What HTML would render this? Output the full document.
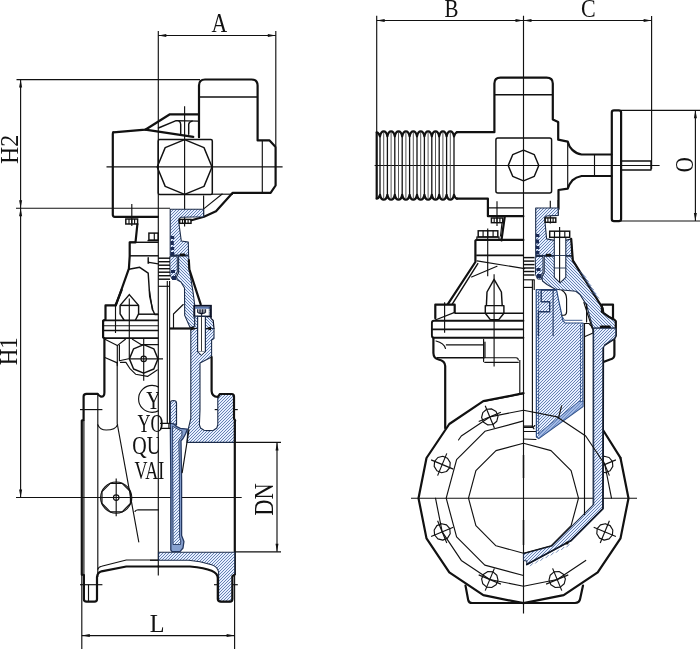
<!DOCTYPE html>
<html><head><meta charset="utf-8"><title>Gate valve drawing</title>
<style>
html,body{margin:0;padding:0;background:#fff;}
svg{display:block;font-family:"Liberation Serif",serif;fill:#111;}
</style></head><body>
<svg width="700" height="649" viewBox="0 0 700 649">
<defs>
<filter id="gs" x="-20%" y="-20%" width="140%" height="140%"><feColorMatrix type="saturate" values="0"/></filter>
<path id="hl" d="M-260.0,610L150.0,200M-257.0,610L153.0,200M-254.0,610L156.0,200M-251.0,610L159.0,200M-248.0,610L162.0,200M-245.0,610L165.0,200M-242.0,610L168.0,200M-239.0,610L171.0,200M-236.0,610L174.0,200M-233.0,610L177.0,200M-230.0,610L180.0,200M-227.0,610L183.0,200M-224.0,610L186.0,200M-221.0,610L189.0,200M-218.0,610L192.0,200M-215.0,610L195.0,200M-212.0,610L198.0,200M-209.0,610L201.0,200M-206.0,610L204.0,200M-203.0,610L207.0,200M-200.0,610L210.0,200M-197.0,610L213.0,200M-194.0,610L216.0,200M-191.0,610L219.0,200M-188.0,610L222.0,200M-185.0,610L225.0,200M-182.0,610L228.0,200M-179.0,610L231.0,200M-176.0,610L234.0,200M-173.0,610L237.0,200M-170.0,610L240.0,200M-167.0,610L243.0,200M-164.0,610L246.0,200M-161.0,610L249.0,200M-158.0,610L252.0,200M-155.0,610L255.0,200M-152.0,610L258.0,200M-149.0,610L261.0,200M-146.0,610L264.0,200M-143.0,610L267.0,200M-140.0,610L270.0,200M-137.0,610L273.0,200M-134.0,610L276.0,200M-131.0,610L279.0,200M-128.0,610L282.0,200M-125.0,610L285.0,200M-122.0,610L288.0,200M-119.0,610L291.0,200M-116.0,610L294.0,200M-113.0,610L297.0,200M-110.0,610L300.0,200M-107.0,610L303.0,200M-104.0,610L306.0,200M-101.0,610L309.0,200M-98.0,610L312.0,200M-95.0,610L315.0,200M-92.0,610L318.0,200M-89.0,610L321.0,200M-86.0,610L324.0,200M-83.0,610L327.0,200M-80.0,610L330.0,200M-77.0,610L333.0,200M-74.0,610L336.0,200M-71.0,610L339.0,200M-68.0,610L342.0,200M-65.0,610L345.0,200M-62.0,610L348.0,200M-59.0,610L351.0,200M-56.0,610L354.0,200M-53.0,610L357.0,200M-50.0,610L360.0,200M-47.0,610L363.0,200M-44.0,610L366.0,200M-41.0,610L369.0,200M-38.0,610L372.0,200M-35.0,610L375.0,200M-32.0,610L378.0,200M-29.0,610L381.0,200M-26.0,610L384.0,200M-23.0,610L387.0,200M-20.0,610L390.0,200M-17.0,610L393.0,200M-14.0,610L396.0,200M-11.0,610L399.0,200M-8.0,610L402.0,200M-5.0,610L405.0,200M-2.0,610L408.0,200M1.0,610L411.0,200M4.0,610L414.0,200M7.0,610L417.0,200M10.0,610L420.0,200M13.0,610L423.0,200M16.0,610L426.0,200M19.0,610L429.0,200M22.0,610L432.0,200M25.0,610L435.0,200M28.0,610L438.0,200M31.0,610L441.0,200M34.0,610L444.0,200M37.0,610L447.0,200M40.0,610L450.0,200M43.0,610L453.0,200M46.0,610L456.0,200M49.0,610L459.0,200M52.0,610L462.0,200M55.0,610L465.0,200M58.0,610L468.0,200M61.0,610L471.0,200M64.0,610L474.0,200M67.0,610L477.0,200M70.0,610L480.0,200M73.0,610L483.0,200M76.0,610L486.0,200M79.0,610L489.0,200M82.0,610L492.0,200M85.0,610L495.0,200M88.0,610L498.0,200M91.0,610L501.0,200M94.0,610L504.0,200M97.0,610L507.0,200M100.0,610L510.0,200M103.0,610L513.0,200M106.0,610L516.0,200M109.0,610L519.0,200M112.0,610L522.0,200M115.0,610L525.0,200M118.0,610L528.0,200M121.0,610L531.0,200M124.0,610L534.0,200M127.0,610L537.0,200M130.0,610L540.0,200M133.0,610L543.0,200M136.0,610L546.0,200M139.0,610L549.0,200M142.0,610L552.0,200M145.0,610L555.0,200M148.0,610L558.0,200M151.0,610L561.0,200M154.0,610L564.0,200M157.0,610L567.0,200M160.0,610L570.0,200M163.0,610L573.0,200M166.0,610L576.0,200M169.0,610L579.0,200M172.0,610L582.0,200M175.0,610L585.0,200M178.0,610L588.0,200M181.0,610L591.0,200M184.0,610L594.0,200M187.0,610L597.0,200M190.0,610L600.0,200M193.0,610L603.0,200M196.0,610L606.0,200M199.0,610L609.0,200M202.0,610L612.0,200M205.0,610L615.0,200M208.0,610L618.0,200M211.0,610L621.0,200M214.0,610L624.0,200M217.0,610L627.0,200M220.0,610L630.0,200M223.0,610L633.0,200M226.0,610L636.0,200M229.0,610L639.0,200M232.0,610L642.0,200M235.0,610L645.0,200M238.0,610L648.0,200M241.0,610L651.0,200M244.0,610L654.0,200M247.0,610L657.0,200M250.0,610L660.0,200M253.0,610L663.0,200M256.0,610L666.0,200M259.0,610L669.0,200M262.0,610L672.0,200M265.0,610L675.0,200M268.0,610L678.0,200M271.0,610L681.0,200M274.0,610L684.0,200M277.0,610L687.0,200M280.0,610L690.0,200M283.0,610L693.0,200M286.0,610L696.0,200M289.0,610L699.0,200M292.0,610L702.0,200M295.0,610L705.0,200M298.0,610L708.0,200M301.0,610L711.0,200M304.0,610L714.0,200M307.0,610L717.0,200M310.0,610L720.0,200M313.0,610L723.0,200M316.0,610L726.0,200M319.0,610L729.0,200M322.0,610L732.0,200M325.0,610L735.0,200M328.0,610L738.0,200M331.0,610L741.0,200M334.0,610L744.0,200M337.0,610L747.0,200M340.0,610L750.0,200M343.0,610L753.0,200M346.0,610L756.0,200M349.0,610L759.0,200M352.0,610L762.0,200M355.0,610L765.0,200M358.0,610L768.0,200M361.0,610L771.0,200M364.0,610L774.0,200M367.0,610L777.0,200M370.0,610L780.0,200M373.0,610L783.0,200M376.0,610L786.0,200M379.0,610L789.0,200M382.0,610L792.0,200M385.0,610L795.0,200M388.0,610L798.0,200M391.0,610L801.0,200M394.0,610L804.0,200M397.0,610L807.0,200M400.0,610L810.0,200M403.0,610L813.0,200M406.0,610L816.0,200M409.0,610L819.0,200M412.0,610L822.0,200M415.0,610L825.0,200M418.0,610L828.0,200M421.0,610L831.0,200M424.0,610L834.0,200M427.0,610L837.0,200M430.0,610L840.0,200M433.0,610L843.0,200M436.0,610L846.0,200M439.0,610L849.0,200M442.0,610L852.0,200M445.0,610L855.0,200M448.0,610L858.0,200M451.0,610L861.0,200M454.0,610L864.0,200M457.0,610L867.0,200M460.0,610L870.0,200M463.0,610L873.0,200M466.0,610L876.0,200M469.0,610L879.0,200M472.0,610L882.0,200M475.0,610L885.0,200M478.0,610L888.0,200M481.0,610L891.0,200M484.0,610L894.0,200M487.0,610L897.0,200M490.0,610L900.0,200M493.0,610L903.0,200M496.0,610L906.0,200M499.0,610L909.0,200M502.0,610L912.0,200M505.0,610L915.0,200M508.0,610L918.0,200M511.0,610L921.0,200M514.0,610L924.0,200M517.0,610L927.0,200M520.0,610L930.0,200M523.0,610L933.0,200M526.0,610L936.0,200M529.0,610L939.0,200M532.0,610L942.0,200M535.0,610L945.0,200M538.0,610L948.0,200M541.0,610L951.0,200M544.0,610L954.0,200M547.0,610L957.0,200M550.0,610L960.0,200M553.0,610L963.0,200M556.0,610L966.0,200M559.0,610L969.0,200M562.0,610L972.0,200M565.0,610L975.0,200M568.0,610L978.0,200M571.0,610L981.0,200M574.0,610L984.0,200M577.0,610L987.0,200M580.0,610L990.0,200M583.0,610L993.0,200M586.0,610L996.0,200M589.0,610L999.0,200M592.0,610L1002.0,200M595.0,610L1005.0,200M598.0,610L1008.0,200M601.0,610L1011.0,200M604.0,610L1014.0,200M607.0,610L1017.0,200M610.0,610L1020.0,200M613.0,610L1023.0,200M616.0,610L1026.0,200M619.0,610L1029.0,200M622.0,610L1032.0,200M625.0,610L1035.0,200M628.0,610L1038.0,200M631.0,610L1041.0,200" stroke="#5875aa" stroke-width="0.9" fill="none"/><path id="hl2" d="M0.0,200L140.0,340M3.0,200L143.0,340M6.0,200L146.0,340M9.0,200L149.0,340M12.0,200L152.0,340M15.0,200L155.0,340M18.0,200L158.0,340M21.0,200L161.0,340M24.0,200L164.0,340M27.0,200L167.0,340M30.0,200L170.0,340M33.0,200L173.0,340M36.0,200L176.0,340M39.0,200L179.0,340M42.0,200L182.0,340M45.0,200L185.0,340M48.0,200L188.0,340M51.0,200L191.0,340M54.0,200L194.0,340M57.0,200L197.0,340M60.0,200L200.0,340M63.0,200L203.0,340M66.0,200L206.0,340M69.0,200L209.0,340M72.0,200L212.0,340M75.0,200L215.0,340M78.0,200L218.0,340M81.0,200L221.0,340M84.0,200L224.0,340M87.0,200L227.0,340M90.0,200L230.0,340M93.0,200L233.0,340M96.0,200L236.0,340M99.0,200L239.0,340M102.0,200L242.0,340M105.0,200L245.0,340M108.0,200L248.0,340M111.0,200L251.0,340M114.0,200L254.0,340M117.0,200L257.0,340M120.0,200L260.0,340M123.0,200L263.0,340M126.0,200L266.0,340M129.0,200L269.0,340M132.0,200L272.0,340M135.0,200L275.0,340M138.0,200L278.0,340M141.0,200L281.0,340M144.0,200L284.0,340M147.0,200L287.0,340M150.0,200L290.0,340M153.0,200L293.0,340M156.0,200L296.0,340M159.0,200L299.0,340M162.0,200L302.0,340M165.0,200L305.0,340M168.0,200L308.0,340M171.0,200L311.0,340M174.0,200L314.0,340M177.0,200L317.0,340M180.0,200L320.0,340M183.0,200L323.0,340M186.0,200L326.0,340M189.0,200L329.0,340M192.0,200L332.0,340M195.0,200L335.0,340M198.0,200L338.0,340M201.0,200L341.0,340M204.0,200L344.0,340M207.0,200L347.0,340M210.0,200L350.0,340M213.0,200L353.0,340M216.0,200L356.0,340M219.0,200L359.0,340M222.0,200L362.0,340M225.0,200L365.0,340M228.0,200L368.0,340M231.0,200L371.0,340M234.0,200L374.0,340M237.0,200L377.0,340M240.0,200L380.0,340M243.0,200L383.0,340M246.0,200L386.0,340M249.0,200L389.0,340M252.0,200L392.0,340M255.0,200L395.0,340M258.0,200L398.0,340M261.0,200L401.0,340M264.0,200L404.0,340M267.0,200L407.0,340M270.0,200L410.0,340M273.0,200L413.0,340M276.0,200L416.0,340M279.0,200L419.0,340M282.0,200L422.0,340M285.0,200L425.0,340M288.0,200L428.0,340M291.0,200L431.0,340M294.0,200L434.0,340M297.0,200L437.0,340M300.0,200L440.0,340M303.0,200L443.0,340M306.0,200L446.0,340M309.0,200L449.0,340M312.0,200L452.0,340M315.0,200L455.0,340M318.0,200L458.0,340M321.0,200L461.0,340M324.0,200L464.0,340M327.0,200L467.0,340M330.0,200L470.0,340M333.0,200L473.0,340M336.0,200L476.0,340M339.0,200L479.0,340M342.0,200L482.0,340M345.0,200L485.0,340M348.0,200L488.0,340M351.0,200L491.0,340M354.0,200L494.0,340M357.0,200L497.0,340M360.0,200L500.0,340M363.0,200L503.0,340M366.0,200L506.0,340M369.0,200L509.0,340M372.0,200L512.0,340M375.0,200L515.0,340M378.0,200L518.0,340M381.0,200L521.0,340M384.0,200L524.0,340M387.0,200L527.0,340M390.0,200L530.0,340M393.0,200L533.0,340M396.0,200L536.0,340M399.0,200L539.0,340M402.0,200L542.0,340M405.0,200L545.0,340M408.0,200L548.0,340M411.0,200L551.0,340M414.0,200L554.0,340M417.0,200L557.0,340M420.0,200L560.0,340M423.0,200L563.0,340M426.0,200L566.0,340M429.0,200L569.0,340M432.0,200L572.0,340M435.0,200L575.0,340M438.0,200L578.0,340M441.0,200L581.0,340M444.0,200L584.0,340M447.0,200L587.0,340M450.0,200L590.0,340M453.0,200L593.0,340M456.0,200L596.0,340M459.0,200L599.0,340M462.0,200L602.0,340M465.0,200L605.0,340M468.0,200L608.0,340M471.0,200L611.0,340M474.0,200L614.0,340M477.0,200L617.0,340M480.0,200L620.0,340M483.0,200L623.0,340M486.0,200L626.0,340M489.0,200L629.0,340M492.0,200L632.0,340M495.0,200L635.0,340M498.0,200L638.0,340M501.0,200L641.0,340M504.0,200L644.0,340M507.0,200L647.0,340M510.0,200L650.0,340M513.0,200L653.0,340M516.0,200L656.0,340M519.0,200L659.0,340M522.0,200L662.0,340M525.0,200L665.0,340M528.0,200L668.0,340M531.0,200L671.0,340M534.0,200L674.0,340M537.0,200L677.0,340M540.0,200L680.0,340M543.0,200L683.0,340M546.0,200L686.0,340M549.0,200L689.0,340M552.0,200L692.0,340M555.0,200L695.0,340M558.0,200L698.0,340M561.0,200L701.0,340M564.0,200L704.0,340M567.0,200L707.0,340M570.0,200L710.0,340M573.0,200L713.0,340M576.0,200L716.0,340M579.0,200L719.0,340M582.0,200L722.0,340M585.0,200L725.0,340M588.0,200L728.0,340M591.0,200L731.0,340M594.0,200L734.0,340M597.0,200L737.0,340M600.0,200L740.0,340M603.0,200L743.0,340M606.0,200L746.0,340M609.0,200L749.0,340M612.0,200L752.0,340M615.0,200L755.0,340M618.0,200L758.0,340M621.0,200L761.0,340M624.0,200L764.0,340M627.0,200L767.0,340M630.0,200L770.0,340" stroke="#5875aa" stroke-width="0.9" fill="none"/>
</defs>
<rect width="700" height="649" fill="#fff"/>
<line x1="158.3" y1="31" x2="158.3" y2="575.5" stroke="#111" stroke-width="1.15" />
<line x1="275.8" y1="31" x2="275.8" y2="146" stroke="#111" stroke-width="1.15" />
<line x1="158.3" y1="35.5" x2="275.8" y2="35.5" stroke="#111" stroke-width="1.15" />
<polygon points="158.3,35.5 166.3,34.0 166.3,37.0" fill="#111"/>
<polygon points="275.8,35.5 267.8,37.0 267.8,34.0" fill="#111"/>
<g filter="url(#gs)"><text transform="translate(219.4,32.2) rotate(0) scale(0.82,1)" font-size="26.5" text-anchor="middle" >A</text></g>
<line x1="16.5" y1="79.6" x2="200" y2="79.6" stroke="#111" stroke-width="1.15" />
<line x1="16" y1="208.2" x2="170" y2="208.2" stroke="#111" stroke-width="1.15" />
<line x1="20.6" y1="79.6" x2="20.6" y2="497.5" stroke="#111" stroke-width="1.15" />
<polygon points="20.6,79.6 22.1,87.6 19.1,87.6" fill="#111"/>
<polygon points="20.6,208.2 19.1,200.2 22.1,200.2" fill="#111"/>
<polygon points="20.6,208.2 22.1,216.2 19.1,216.2" fill="#111"/>
<polygon points="20.6,497.5 19.1,489.5 22.1,489.5" fill="#111"/>
<line x1="16" y1="497.5" x2="241.7" y2="497.5" stroke="#111" stroke-width="1.15" />
<g filter="url(#gs)"><text transform="translate(17.5,149.4) rotate(-90) scale(0.94,1)" font-size="25.5" text-anchor="middle" >H2</text></g>
<g filter="url(#gs)"><text transform="translate(17.3,351.2) rotate(-90) scale(0.9,1)" font-size="25.5" text-anchor="middle" >H1</text></g>
<line x1="235" y1="442.4" x2="281" y2="442.4" stroke="#111" stroke-width="1.15" />
<line x1="235" y1="551.8" x2="281" y2="551.8" stroke="#111" stroke-width="1.15" />
<line x1="277" y1="442.4" x2="277" y2="551.8" stroke="#111" stroke-width="1.15" />
<polygon points="277.0,442.4 278.5,450.4 275.5,450.4" fill="#111"/>
<polygon points="277.0,551.8 275.5,543.8 278.5,543.8" fill="#111"/>
<g filter="url(#gs)"><text transform="translate(273.4,499.5) rotate(-90) scale(0.85,1)" font-size="26.5" text-anchor="middle" >DN</text></g>
<line x1="81.8" y1="575" x2="81.8" y2="649" stroke="#111" stroke-width="1.15" />
<line x1="234.6" y1="552" x2="234.6" y2="649" stroke="#111" stroke-width="1.15" />
<line x1="81.8" y1="635.6" x2="234.6" y2="635.6" stroke="#111" stroke-width="1.15" />
<polygon points="81.8,635.6 89.8,634.1 89.8,637.1" fill="#111"/>
<polygon points="234.6,635.6 226.6,637.1 226.6,634.1" fill="#111"/>
<g filter="url(#gs)"><text transform="translate(157.2,632.2) rotate(0) scale(0.95,1)" font-size="25.5" text-anchor="middle" >L</text></g>
<path d="M199,137.2 V85.5 Q199,79.5 205,79.5 H251.6 Q257.6,79.5 257.6,85.5 V140.4 H269.6 L275.6,146.9 V185.5 L270.6,192.8 H232.7 L216,211.3 L204,216.7 L191.5,220.3" stroke="#111" stroke-width="2.2" fill="none" stroke-linejoin="round" stroke-linecap="round" />
<line x1="199" y1="97" x2="257.6" y2="97" stroke="#111" stroke-width="1.45" />
<line x1="262.3" y1="140.4" x2="262.3" y2="192.8" stroke="#111" stroke-width="1.15" />
<path d="M113.3,132.3 L145.3,129.7 L169.9,114.3 H199" stroke="#111" stroke-width="2.2" fill="none" stroke-linejoin="round" stroke-linecap="round" />
<path d="M145.3,129.7 L193.3,136.8" stroke="#111" stroke-width="2.2" fill="none" stroke-linejoin="round" stroke-linecap="round" />
<path d="M158.4,128 L176.1,120.6 L197.9,121.1" stroke="#111" stroke-width="1.45" fill="none" stroke-linejoin="round" stroke-linecap="round" />
<path d="M179,121.1 Q180.7,122 180.7,124.6 V133.7" stroke="#111" stroke-width="1.45" fill="none" stroke-linejoin="round" stroke-linecap="round" />
<path d="M192.1,121.1 Q188.7,122 188.7,124.6 V134.3" stroke="#111" stroke-width="1.45" fill="none" stroke-linejoin="round" stroke-linecap="round" />
<path d="M113.3,132.3 Q112.8,132.4 112.8,134 V214.8 Q112.8,216.8 114.8,216.8 H157.8" stroke="#111" stroke-width="2.2" fill="none" stroke-linejoin="round" stroke-linecap="round" />
<rect x="158.2" y="139.5" width="54.1" height="55" rx="1.5" stroke="#111" stroke-width="1.5" fill="none"/>
<path d="M212.0,167.0 L204.0,147.6 L184.6,139.6 L165.2,147.6 L157.2,167.0 L165.2,186.4 L184.6,194.4 L204.0,186.4 Z" stroke="#111" stroke-width="1.45" fill="none" stroke-linejoin="round" stroke-linecap="round" />
<line x1="184.6" y1="106.3" x2="184.6" y2="226.4" stroke="#111" stroke-width="1.15" />
<line x1="106.5" y1="166.9" x2="282.6" y2="166.9" stroke="#111" stroke-width="1.15" />
<line x1="211.8" y1="194.2" x2="233" y2="194.2" stroke="#111" stroke-width="1.15" />
<line x1="222.5" y1="193.8" x2="204" y2="208.6" stroke="#111" stroke-width="1.15" />
<line x1="203.6" y1="195.6" x2="203.6" y2="216.9" stroke="#111" stroke-width="1.15" />
<line x1="131.8" y1="203.9" x2="131.8" y2="226" stroke="#111" stroke-width="1.15" />
<rect x="125.8" y="219" width="11.8" height="5" rx="0" stroke="#111" stroke-width="1.45" fill="none"/>
<line x1="129" y1="219" x2="129" y2="224" stroke="#111" stroke-width="1.15" />
<line x1="131.8" y1="219" x2="131.8" y2="224" stroke="#111" stroke-width="1.15" />
<line x1="134.6" y1="219" x2="134.6" y2="224" stroke="#111" stroke-width="1.15" />
<path d="M137.4,224 L135.5,242.3 H129.7 V256 L128.9,268.6 L115.8,305.5" stroke="#111" stroke-width="2.2" fill="none" stroke-linejoin="round" stroke-linecap="round" />
<line x1="129.7" y1="242.3" x2="158.3" y2="242.3" stroke="#111" stroke-width="1.45" />
<line x1="129.7" y1="255.8" x2="158.3" y2="255.8" stroke="#111" stroke-width="1.45" />
<rect x="148.9" y="233.1" width="9.3" height="7" rx="0" stroke="#111" stroke-width="1.45" fill="none"/>
<line x1="154.3" y1="233.1" x2="154.3" y2="240.1" stroke="#111" stroke-width="1.15" />
<line x1="147.5" y1="240.6" x2="158.3" y2="240.6" stroke="#111" stroke-width="1.45" />
<path d="M128.9,269.3 L139.7,267.3 L148.2,273.2 L149.7,296.3 L152.8,310 L154.8,314.5 H158" stroke="#111" stroke-width="1.45" fill="none" stroke-linejoin="round" stroke-linecap="round" />
<path d="M148.2,257.8 V263.2 M149,262.4 L158.2,263.9" stroke="#111" stroke-width="1.45" fill="none" stroke-linejoin="round" stroke-linecap="round" />
<path d="M129.3,294.6 L120.1,305.4 V313.9 L124,320 M129.3,294.6 L138.6,305.4 V313.9 L135.5,320" stroke="#111" stroke-width="1.45" fill="none" stroke-linejoin="round" stroke-linecap="round" />
<line x1="120.1" y1="305.4" x2="138.6" y2="305.4" stroke="#111" stroke-width="1.45" />
<line x1="129.3" y1="298.5" x2="129.3" y2="358.6" stroke="#111" stroke-width="1.15" />
<line x1="138.6" y1="314.2" x2="158" y2="314.2" stroke="#111" stroke-width="1.45" />
<path d="M149.4,290 L152.4,310" stroke="#111" stroke-width="1.15" fill="none" stroke-linejoin="round" stroke-linecap="round" />
<path d="M121.6,290 L115.5,305.4 H105.5 V319.5 L103.1,320.8 V337.3 L104.4,338.3 V392 Q104.6,396.8 101,396.6 Q98.8,396 97.8,393.9 H86.5 Q83.6,393.9 83.6,396.5 V420 L81.8,420.6 V574.7 L83.9,575 V599.3 Q83.9,601.6 86.5,601.6 H94.5 Q97,601.6 97,599.3 V577 Q97.5,572.5 101.5,571.3 L126.3,566.5 H158.5" stroke="#111" stroke-width="2.2" fill="none" stroke-linejoin="round" stroke-linecap="round" />
<line x1="115.5" y1="303" x2="115.5" y2="333" stroke="#111" stroke-width="1.15" />
<line x1="103.5" y1="320.3" x2="158.3" y2="320.3" stroke="#111" stroke-width="1.7600000000000002" />
<line x1="103.5" y1="325.7" x2="158.3" y2="325.7" stroke="#111" stroke-width="1.15" />
<line x1="103.5" y1="330.4" x2="158.3" y2="330.4" stroke="#111" stroke-width="1.45" />
<line x1="103.5" y1="338.1" x2="158.3" y2="338.1" stroke="#111" stroke-width="1.7600000000000002" />
<path d="M104.9,339.2 L117.3,345.6 L125.4,339.2 M132.4,339.2 L141,344.6 H158.3" stroke="#111" stroke-width="1.15" fill="none" stroke-linejoin="round" stroke-linecap="round" />
<path d="M117.3,345.6 V365.6 M119.4,345 V360.7 L128.6,358.8" stroke="#111" stroke-width="1.15" fill="none" stroke-linejoin="round" stroke-linecap="round" />
<path d="M120.5,362.4 H125.9 L129.7,368.3 L135.6,374.2 L147.5,376.4 L157.2,369.9" stroke="#111" stroke-width="1.15" fill="none" stroke-linejoin="round" stroke-linecap="round" />
<path d="M104.9,357.5 L117.3,362.9" stroke="#111" stroke-width="1.15" fill="none" stroke-linejoin="round" stroke-linecap="round" />
<path d="M158.0,358.9 L153.8,348.8 L143.7,344.6 L133.6,348.8 L129.4,358.9 L133.6,369.0 L143.7,373.2 L153.8,369.0 Z" stroke="#111" stroke-width="1.45" fill="none" stroke-linejoin="round" stroke-linecap="round" />
<circle cx="143.7" cy="358.9" r="2.7" stroke="#111" stroke-width="1.15" fill="none" />
<line x1="129" y1="358.9" x2="163" y2="358.9" stroke="#111" stroke-width="1.15" />
<line x1="143.7" y1="339" x2="143.7" y2="380.7" stroke="#111" stroke-width="1.15" />
<line x1="167.3" y1="281" x2="167.3" y2="423.4" stroke="#111" stroke-width="1.15" />
<line x1="169.6" y1="281" x2="169.6" y2="423.4" stroke="#111" stroke-width="1.15" />
<line x1="83.9" y1="420" x2="83.9" y2="575" stroke="#111" stroke-width="1.15" />
<line x1="97.8" y1="393.9" x2="97.8" y2="577" stroke="#111" stroke-width="1.15" />
<line x1="80" y1="409.6" x2="102.4" y2="409.6" stroke="#111" stroke-width="1.15" />
<line x1="80" y1="584.7" x2="102.4" y2="584.7" stroke="#111" stroke-width="1.15" />
<line x1="214.7" y1="409.6" x2="237.8" y2="409.6" stroke="#111" stroke-width="1.15" />
<line x1="214" y1="584.7" x2="237.8" y2="584.7" stroke="#111" stroke-width="1.15" />
<line x1="88.5" y1="584.7" x2="88.5" y2="601" stroke="#111" stroke-width="1.15" />
<path d="M97.8,424.7 Q100,430 106.2,430 Q115.5,430 117.6,424.7" stroke="#111" stroke-width="1.15" fill="none" stroke-linejoin="round" stroke-linecap="round" />
<path d="M117.2,362 V423.5 L138.8,542" stroke="#111" stroke-width="1.15" fill="none" stroke-linejoin="round" stroke-linecap="round" />
<path d="M158.5,509.8 H138 Q135.5,510 135,511.5" stroke="#111" stroke-width="1.15" fill="none" stroke-linejoin="round" stroke-linecap="round" />
<path d="M97.8,569.3 Q98.5,566.8 101.6,566.2 L126.3,560 H158.5" stroke="#111" stroke-width="1.15" fill="none" stroke-linejoin="round" stroke-linecap="round" />
<circle cx="116.2" cy="497.6" r="15.6" stroke="#111" stroke-width="1.15" fill="none" />
<path d="M130.4,491.7 L122.1,483.4 L110.3,483.4 L102.0,491.7 L102.0,503.5 L110.3,511.8 L122.1,511.8 L130.4,503.5 Z" stroke="#111" stroke-width="1.15" fill="none" stroke-linejoin="round" stroke-linecap="round" />
<circle cx="116.2" cy="497.6" r="2.8" stroke="#111" stroke-width="1.15" fill="none" />
<line x1="116.2" y1="478.5" x2="116.2" y2="516.2" stroke="#111" stroke-width="1.15" />
<clipPath id="cl"><rect x="100" y="380" width="58.6" height="40"/></clipPath>
<g clip-path="url(#cl)">
<circle cx="152.1" cy="398.9" r="13.5" stroke="#111" stroke-width="1.15" fill="none" />
<g filter="url(#gs)"><text transform="translate(146.3,409.4) rotate(0) scale(0.8,1)" font-size="25" text-anchor="start" >Y</text></g>
</g>
<g filter="url(#gs)"><text transform="translate(137.5,431.6) rotate(0) scale(0.72,1)" font-size="25" text-anchor="start" >YO</text></g>
<clipPath id="cl2"><rect x="100" y="430" width="58.6" height="30"/></clipPath>
<g clip-path="url(#cl2)">
<g filter="url(#gs)"><text transform="translate(132.2,454) rotate(0) scale(0.8,1)" font-size="25" text-anchor="start" >QU</text></g>
</g>
<g filter="url(#gs)"><text transform="translate(134.6,478.5) rotate(0) scale(0.72,1)" font-size="25" text-anchor="start" >VAI</text></g>
<clipPath id="c1"><path d="M170.2,209.3 L203.6,209.3 L203.6,216.8 L181.0,217.2 L178.8,219.0 L178.6,221.0 L181.3,241.0 L188.3,242.1 L188.6,255.3 L170.2,255.3 Z"/></clipPath><g clip-path="url(#c1)"><rect x="150" y="200" width="480" height="410" fill="#e6efff"/><use href="#hl"/></g>
<path d="M170.2,209.3 L203.6,209.3 L203.6,216.8 L181.0,217.2 L178.8,219.0 L178.6,221.0 L181.3,241.0 L188.3,242.1 L188.6,255.3 L170.2,255.3 Z" stroke="#1c2c4a" stroke-width="1.1" fill="none" stroke-linejoin="round" stroke-linecap="round" />
<clipPath id="c2"><path d="M170.2,256.3 L177.3,256.3 L177.3,272.0 L175.3,276.0 L175.7,279.4 L172.0,279.0 L170.2,275.0 Z"/></clipPath><g clip-path="url(#c2)"><rect x="150" y="200" width="480" height="410" fill="#e6efff"/><use href="#hl"/></g>
<path d="M170.2,256.3 L177.3,256.3 L177.3,272.0 L175.3,276.0 L175.7,279.4 L172.0,279.0 L170.2,275.0 Z" stroke="#1c2c4a" stroke-width="1.0" fill="none" stroke-linejoin="round" stroke-linecap="round" />
<clipPath id="c3"><path d="M178.6,256.0 L188.7,256.0 L188.8,260.0 L189.4,269.7 L193.1,292.4 L194.7,305.0 L194.7,326.0 L190.5,328.5 L184.7,315.4 L184.5,288.0 L181.0,282.0 L177.0,279.8 L176.6,276.6 L178.6,272.5 Z"/></clipPath><g clip-path="url(#c3)"><rect x="150" y="200" width="480" height="410" fill="#e6efff"/><use href="#hl2"/></g>
<path d="M178.6,256.0 L188.7,256.0 L188.8,260.0 L189.4,269.7 L193.1,292.4 L194.7,305.0 L194.7,326.0 L190.5,328.5 L184.7,315.4 L184.5,288.0 L181.0,282.0 L177.0,279.8 L176.6,276.6 L178.6,272.5 Z" stroke="#1c2c4a" stroke-width="1.1" fill="none" stroke-linejoin="round" stroke-linecap="round" />
<path d="M188.8,260 L189.4,269.7 L200.7,304.4" stroke="#111" stroke-width="2.2" fill="none" stroke-linejoin="round" stroke-linecap="round" />
<rect x="170.6" y="236" width="3.6" height="3" fill="#1a2a55"/>
<rect x="170.6" y="241" width="3.2" height="4" fill="#1a2a55"/>
<rect x="170.6" y="247" width="3.6" height="3" fill="#1a2a55"/>
<rect x="170.6" y="252" width="3.6" height="3.5" fill="#1a2a55"/>
<rect x="171" y="270" width="4" height="3" fill="#1a2a55"/>
<rect x="172" y="276" width="4" height="4" fill="#1a2a55"/>
<line x1="170.5" y1="255.3" x2="188.5" y2="255.3" stroke="#1c2c4a" stroke-width="1.2" />
<rect x="180" y="253.5" width="5" height="2.6" fill="#111"/>
<rect x="179.7" y="219.4" width="11.3" height="3.9" rx="0" stroke="#111" stroke-width="1.45" fill="none"/>
<line x1="182.5" y1="219.4" x2="182.5" y2="223.3" stroke="#111" stroke-width="1.15" />
<line x1="185.3" y1="219.4" x2="185.3" y2="223.3" stroke="#111" stroke-width="1.15" />
<line x1="188.1" y1="219.4" x2="188.1" y2="223.3" stroke="#111" stroke-width="1.15" />
<line x1="158.3" y1="258.2" x2="170" y2="258.2" stroke="#111" stroke-width="1.45" />
<line x1="158.3" y1="261.7" x2="170" y2="261.7" stroke="#111" stroke-width="1.45" />
<line x1="158.3" y1="265.2" x2="170" y2="265.2" stroke="#111" stroke-width="1.45" />
<line x1="158.3" y1="268.7" x2="170" y2="268.7" stroke="#111" stroke-width="1.45" />
<line x1="158.3" y1="272.2" x2="170" y2="272.2" stroke="#111" stroke-width="1.45" />
<line x1="158.3" y1="275.7" x2="170" y2="275.7" stroke="#111" stroke-width="1.45" />
<line x1="158.3" y1="279.2" x2="170" y2="279.2" stroke="#111" stroke-width="1.45" />
<line x1="158.3" y1="286.3" x2="169.6" y2="286.3" stroke="#111" stroke-width="1.15" />
<path d="M173.5,328.5 V314 L183.2,304.5" stroke="#111" stroke-width="1.15" fill="none" stroke-linejoin="round" stroke-linecap="round" />
<line x1="170" y1="328.5" x2="191.6" y2="328.5" stroke="#111" stroke-width="2.2" />
<rect x="194.3" y="305.8" width="16.6" height="10.8" rx="0" stroke="#0c1226" stroke-width="1.9" fill="#fff"/>
<rect x="195" y="306.6" width="15.2" height="2.2" fill="#5d78ad"/>
<path d="M197.6,309.6 V312.6 Q201.6,315 205.6,312.6 V309.6 M199.2,309.6 V313.2 M200.8,309.6 V313.8 M202.4,309.6 V313.8 M204,309.6 V313.2 M201.6,313 V316.4" stroke="#0c1226" stroke-width="1.0" fill="none" stroke-linejoin="round" stroke-linecap="round" />
<path d="M209.3,307 V316" stroke="#1c2c4a" stroke-width="0.8" fill="none" stroke-linejoin="round" stroke-linecap="round" stroke-dasharray="1.5 1"/>
<clipPath id="c4"><path d="M205.4,316.6 L211.0,316.6 L211.0,318.4 L213.2,320.5 L214.0,328.5 L205.4,328.5 Z"/></clipPath><g clip-path="url(#c4)"><rect x="150" y="200" width="480" height="410" fill="#e6efff"/><use href="#hl2"/></g>
<path d="M205.4,316.6 L211.0,316.6 L211.0,318.4 L213.2,320.5 L214.0,328.5 L205.4,328.5 Z" stroke="#0c1226" stroke-width="1.2" fill="none" stroke-linejoin="round" stroke-linecap="round" />
<clipPath id="c5"><path d="M194.7,316.2 L197.8,316.2 L197.8,328.5 L190.5,328.5 L194.7,326.0 Z"/></clipPath><g clip-path="url(#c5)"><rect x="150" y="200" width="480" height="410" fill="#e6efff"/><use href="#hl2"/></g>
<path d="M194.7,316.2 L197.8,316.2 L197.8,328.5 L190.5,328.5 L194.7,326.0 Z" stroke="#1c2c4a" stroke-width="1.1" fill="none" stroke-linejoin="round" stroke-linecap="round" />
<clipPath id="c6"><path d="M190.8,328.5 L197.8,328.5 L197.8,351.6 L201.2,355.0 L204.7,351.6 L204.7,328.5 L214.0,328.5 L214.0,338.5 L211.6,340.0 L211.6,357.0 L200.0,363.0 L200.0,410.0 L199.4,424.7 L200.5,428.0 L204.0,430.2 L208.6,430.6 L213.5,430.2 L216.8,428.0 L217.8,424.7 L217.8,397.0 L220.0,394.0 L231.7,394.0 L234.0,396.5 L234.0,418.5 L235.2,420.8 L235.2,442.4 L187.0,442.4 L187.8,430.8 L190.8,418.5 Z"/></clipPath><g clip-path="url(#c6)"><rect x="150" y="200" width="480" height="410" fill="#e6efff"/><use href="#hl"/></g>
<path d="M190.8,328.5 L197.8,328.5 L197.8,351.6 L201.2,355.0 L204.7,351.6 L204.7,328.5 L214.0,328.5 L214.0,338.5 L211.6,340.0 L211.6,357.0 L200.0,363.0 L200.0,410.0 L199.4,424.7 L200.5,428.0 L204.0,430.2 L208.6,430.6 L213.5,430.2 L216.8,428.0 L217.8,424.7 L217.8,397.0 L220.0,394.0 L231.7,394.0 L234.0,396.5 L234.0,418.5 L235.2,420.8 L235.2,442.4 L187.0,442.4 L187.8,430.8 L190.8,418.5 Z" stroke="#1c2c4a" stroke-width="1.1" fill="none" stroke-linejoin="round" stroke-linecap="round" />
<rect x="197.6" y="316.4" width="7.8" height="35.2" rx="0" stroke="#1c2c4a" stroke-width="1.2" fill="#fff"/>
<line x1="201.5" y1="316.5" x2="201.5" y2="352" stroke="#222" stroke-width="0.9" />
<path d="M197.6,351.6 L201.5,355.2 L205.4,351.6" stroke="#1c2c4a" stroke-width="1.0" fill="#fff" stroke-linejoin="round" stroke-linecap="round" />
<polygon points="190.5,326.5 197.5,328.5 190.5,330.5" fill="#111"/><polygon points="211,326.5 205,328.5 211,330.5" fill="#111"/>
<path d="M211.6,357 V391 Q211.8,396.5 217.8,397 L220,394 H231.7 Q234,394 234,396.5 V418.5 L235.2,420.8" stroke="#111" stroke-width="2.2" fill="none" stroke-linejoin="round" stroke-linecap="round" />
<line x1="234.8" y1="420.8" x2="234.8" y2="574.7" stroke="#111" stroke-width="2.2" />
<clipPath id="c7"><path d="M170.3,424 V403 Q170.3,400.5 173.4,400.5 Q176.5,400.5 176.5,403 V425 Z"/></clipPath><g clip-path="url(#c7)"><rect x="150" y="200" width="480" height="410" fill="#e6efff"/><use href="#hl"/></g>
<path d="M170.3,424 V403 Q170.3,400.5 173.4,400.5 Q176.5,400.5 176.5,403 V425 Z" stroke="#1c2c4a" stroke-width="1.2" fill="none" stroke-linejoin="round" stroke-linecap="round" />
<path d="M170.3,423.2 L174.0,424.0 L176.7,426.7 L180.4,428.3 L187.4,429.2 L185.5,434.0 L183.0,438.5 L181.0,440.8 L181.6,480.0 L181.6,535.5 L183.9,541.6 L183.0,548.0 L180.0,551.6 L172.0,551.6 L170.8,550.0 L170.8,480.0 Z" stroke="#24375f" stroke-width="1.3" fill="#86a0cf" stroke-linejoin="round" stroke-linecap="round" />
<clipPath id="c8"><path d="M172.9,426.4 L176.0,428.3 L180.0,430.3 L182.0,431.0 L181.8,436.5 L179.8,439.0 L178.8,441.0 L179.3,460.0 L179.6,537.0 L180.8,541.0 L180.5,544.5 L173.4,544.5 Z"/></clipPath><g clip-path="url(#c8)"><rect x="150" y="200" width="480" height="410" fill="#e6efff"/><use href="#hl"/></g>
<path d="M172.9,426.4 L176.0,428.3 L180.0,430.3 L182.0,431.0 L181.8,436.5 L179.8,439.0 L178.8,441.0 L179.3,460.0 L179.6,537.0 L180.8,541.0 L180.5,544.5 L173.4,544.5 Z" stroke="#24375f" stroke-width="0.9" fill="none" stroke-linejoin="round" stroke-linecap="round" />
<path d="M189,429.7 L182.2,472.7" stroke="#111" stroke-width="1.15" fill="none" stroke-linejoin="round" stroke-linecap="round" />
<path d="M160.5,423.4 H170.3 M160.5,428.3 H170.3 M168.9,423.4 V428.3" stroke="#111" stroke-width="1.15" fill="none" stroke-linejoin="round" stroke-linecap="round" />
<clipPath id="c9"><path d="M158.5,552.2 H234.7 V574.7 L232.4,576.2 V599.3 Q232.4,601.6 230,601.6 H221 Q218.6,601.6 218.6,599.3 V572 Q217.5,566.5 211.6,564.7 Q200,561 188.5,560.2 H158.5 Z"/></clipPath><g clip-path="url(#c9)"><rect x="150" y="200" width="480" height="410" fill="#e6efff"/><use href="#hl"/></g>
<path d="M158.5,552.2 H234.7 V574.7 L232.4,576.2 V599.3 Q232.4,601.6 230,601.6 H221 Q218.6,601.6 218.6,599.3 V572 Q217.5,566.5 211.6,564.7 Q200,561 188.5,560.2 H158.5 Z" stroke="#1c2c4a" stroke-width="1.1" fill="none" stroke-linejoin="round" stroke-linecap="round" />
<path d="M158.5,566.5 H190 Q205,568 211.6,570.8 Q217.8,573.5 217.8,578 V599 Q217.8,601.6 221,601.6 H230 Q232.4,601.6 232.4,599 V576.2 L234.7,574.7" stroke="#111" stroke-width="2.2" fill="none" stroke-linejoin="round" stroke-linecap="round" />
<line x1="150" y1="560.3" x2="158.5" y2="560.3" stroke="#111" stroke-width="1.15" />
<line x1="523.5" y1="15.8" x2="523.5" y2="613.5" stroke="#111" stroke-width="1.15" />
<line x1="376.7" y1="15.8" x2="376.7" y2="132" stroke="#111" stroke-width="1.15" />
<line x1="376.7" y1="20.5" x2="651.6" y2="20.5" stroke="#111" stroke-width="1.15" />
<polygon points="376.7,20.5 384.7,19.0 384.7,22.0" fill="#111"/>
<polygon points="523.5,20.5 515.5,22.0 515.5,19.0" fill="#111"/>
<polygon points="523.5,20.5 531.5,19.0 531.5,22.0" fill="#111"/>
<polygon points="651.6,20.5 643.6,22.0 643.6,19.0" fill="#111"/>
<line x1="651.6" y1="16" x2="651.6" y2="169" stroke="#111" stroke-width="1.15" />
<g filter="url(#gs)"><text transform="translate(451.4,17) rotate(0) scale(0.84,1)" font-size="25" text-anchor="middle" >B</text></g>
<g filter="url(#gs)"><text transform="translate(588.4,17) rotate(0) scale(0.88,1)" font-size="25" text-anchor="middle" >C</text></g>
<line x1="621" y1="110.3" x2="700" y2="110.3" stroke="#111" stroke-width="1.15" />
<line x1="621" y1="221" x2="700" y2="221" stroke="#111" stroke-width="1.15" />
<line x1="695.4" y1="110.3" x2="695.4" y2="221" stroke="#111" stroke-width="1.15" />
<polygon points="695.4,110.3 696.9,118.3 693.9,118.3" fill="#111"/>
<polygon points="695.4,221.0 693.9,213.0 696.9,213.0" fill="#111"/>
<g filter="url(#gs)"><text transform="translate(692.8,164.7) rotate(-90) scale(0.82,1)" font-size="25.5" text-anchor="middle" >O</text></g>
<line x1="374.6" y1="165.5" x2="659.6" y2="165.5" stroke="#111" stroke-width="1.15" />
<line x1="411" y1="498.2" x2="637" y2="498.2" stroke="#111" stroke-width="1.15" />
<path d="M376.6,132.3 Q378.6,132.3 380.0,136.4 C381.30,129.8 386.10,129.8 387.40,136.4 C388.70,129.8 393.50,129.8 394.80,136.4 C396.10,129.8 400.90,129.8 402.20,136.4 C403.50,129.8 408.30,129.8 409.60,136.4 C410.90,129.8 415.70,129.8 417.00,136.4 C418.30,129.8 423.10,129.8 424.40,136.4 C425.70,129.8 430.50,129.8 431.80,136.4 C433.10,129.8 437.90,129.8 439.20,136.4 C440.50,129.8 445.30,129.8 446.60,136.4 C447.90,129.8 452.70,129.8 454.00,136.4 Q455.40,132.3 457,132.3" stroke="#111" stroke-width="2.2" fill="none" stroke-linejoin="round" stroke-linecap="round" />
<path d="M376.6,198.7 Q378.6,198.7 380.0,194.8 C381.30,201.4 386.10,201.4 387.40,194.8 C388.70,201.4 393.50,201.4 394.80,194.8 C396.10,201.4 400.90,201.4 402.20,194.8 C403.50,201.4 408.30,201.4 409.60,194.8 C410.90,201.4 415.70,201.4 417.00,194.8 C418.30,201.4 423.10,201.4 424.40,194.8 C425.70,201.4 430.50,201.4 431.80,194.8 C433.10,201.4 437.90,201.4 439.20,194.8 C440.50,201.4 445.30,201.4 446.60,194.8 C447.90,201.4 452.70,201.4 454.00,194.8 Q455.40,198.7 457,198.7" stroke="#111" stroke-width="2.2" fill="none" stroke-linejoin="round" stroke-linecap="round" />
<line x1="376.7" y1="132.5" x2="376.7" y2="198.5" stroke="#111" stroke-width="2.2" />
<line x1="380.0" y1="136" x2="380.0" y2="195" stroke="#111" stroke-width="1.3" />
<line x1="383.7" y1="131.8" x2="383.7" y2="199.2" stroke="#444" stroke-width="0.9" />
<line x1="387.4" y1="136" x2="387.4" y2="195" stroke="#111" stroke-width="1.3" />
<line x1="391.1" y1="131.8" x2="391.1" y2="199.2" stroke="#444" stroke-width="0.9" />
<line x1="394.8" y1="136" x2="394.8" y2="195" stroke="#111" stroke-width="1.3" />
<line x1="398.5" y1="131.8" x2="398.5" y2="199.2" stroke="#444" stroke-width="0.9" />
<line x1="402.2" y1="136" x2="402.2" y2="195" stroke="#111" stroke-width="1.3" />
<line x1="405.9" y1="131.8" x2="405.9" y2="199.2" stroke="#444" stroke-width="0.9" />
<line x1="409.6" y1="136" x2="409.6" y2="195" stroke="#111" stroke-width="1.3" />
<line x1="413.3" y1="131.8" x2="413.3" y2="199.2" stroke="#444" stroke-width="0.9" />
<line x1="417.0" y1="136" x2="417.0" y2="195" stroke="#111" stroke-width="1.3" />
<line x1="420.7" y1="131.8" x2="420.7" y2="199.2" stroke="#444" stroke-width="0.9" />
<line x1="424.4" y1="136" x2="424.4" y2="195" stroke="#111" stroke-width="1.3" />
<line x1="428.1" y1="131.8" x2="428.1" y2="199.2" stroke="#444" stroke-width="0.9" />
<line x1="431.8" y1="136" x2="431.8" y2="195" stroke="#111" stroke-width="1.3" />
<line x1="435.5" y1="131.8" x2="435.5" y2="199.2" stroke="#444" stroke-width="0.9" />
<line x1="439.2" y1="136" x2="439.2" y2="195" stroke="#111" stroke-width="1.3" />
<line x1="442.9" y1="131.8" x2="442.9" y2="199.2" stroke="#444" stroke-width="0.9" />
<line x1="446.6" y1="136" x2="446.6" y2="195" stroke="#111" stroke-width="1.3" />
<line x1="450.3" y1="131.8" x2="450.3" y2="199.2" stroke="#444" stroke-width="0.9" />
<line x1="454.0" y1="136" x2="454.0" y2="195" stroke="#111" stroke-width="1.3" />
<path d="M457,132.2 H494.4 V83.5 Q494.4,77.6 500.4,77.6 H546.6 Q552.8,77.6 552.8,83.5 V119.6 L558.2,122 V139.7 L567.7,141.6 Q569,147 572.3,149.9 Q576,153.5 581.6,154.5 H611.5" stroke="#111" stroke-width="2.2" fill="none" stroke-linejoin="round" stroke-linecap="round" />
<path d="M611.5,176 H581.6 Q576,177 572.3,180.4 Q569,184 567.7,188.7 L558.5,190 V209" stroke="#111" stroke-width="2.2" fill="none" stroke-linejoin="round" stroke-linecap="round" />
<path d="M457,198.7 H487.9 V216.2 H523.3" stroke="#111" stroke-width="2.2" fill="none" stroke-linejoin="round" stroke-linecap="round" />
<line x1="494.4" y1="94.8" x2="552.8" y2="94.8" stroke="#111" stroke-width="1.45" />
<line x1="488.5" y1="207.8" x2="523.3" y2="207.8" stroke="#111" stroke-width="1.15" />
<line x1="567.7" y1="141.6" x2="567.7" y2="188.7" stroke="#111" stroke-width="1.15" />
<line x1="594.5" y1="154.5" x2="594.5" y2="176" stroke="#111" stroke-width="1.15" />
<rect x="495.9" y="137.9" width="55.7" height="55.1" rx="2" stroke="#111" stroke-width="1.45" fill="none"/>
<path d="M538.8,165.5 L534.3,154.7 L523.5,150.2 L512.7,154.7 L508.2,165.5 L512.7,176.3 L523.5,180.8 L534.3,176.3 Z" stroke="#111" stroke-width="1.45" fill="none" stroke-linejoin="round" stroke-linecap="round" />
<rect x="611.8" y="110.3" width="9.3" height="110.8" rx="2.2" stroke="#111" stroke-width="2.2" fill="none"/>
<path d="M621,161 H651 V170 H621" stroke="#111" stroke-width="1.45" fill="none" stroke-linejoin="round" stroke-linecap="round" />
<rect x="491.4" y="218" width="11.3" height="4.7" rx="0" stroke="#111" stroke-width="1.45" fill="none"/>
<line x1="494.2" y1="218" x2="494.2" y2="222.7" stroke="#111" stroke-width="1.15" />
<line x1="497" y1="218" x2="497" y2="222.7" stroke="#111" stroke-width="1.15" />
<line x1="499.9" y1="218" x2="499.9" y2="222.7" stroke="#111" stroke-width="1.15" />
<line x1="497" y1="201.3" x2="497" y2="226" stroke="#111" stroke-width="1.15" />
<line x1="550.3" y1="200.7" x2="550.3" y2="223.6" stroke="#111" stroke-width="1.15" />
<line x1="558.2" y1="200" x2="558.2" y2="215.4" stroke="#111" stroke-width="1.15" />
<path d="M504.7,217.2 L501.4,240.5" stroke="#111" stroke-width="2.2" fill="none" stroke-linejoin="round" stroke-linecap="round" />
<path d="M502,223 L500.5,236" stroke="#111" stroke-width="1.15" fill="none" stroke-linejoin="round" stroke-linecap="round" />
<rect x="478.2" y="230.8" width="19.6" height="6.2" rx="0" stroke="#111" stroke-width="1.45" fill="none"/>
<line x1="483.1" y1="230.8" x2="483.1" y2="237" stroke="#111" stroke-width="1.15" />
<line x1="487.7" y1="230.8" x2="487.7" y2="237" stroke="#111" stroke-width="1.15" />
<line x1="493.1" y1="230.8" x2="493.1" y2="237" stroke="#111" stroke-width="1.15" />
<rect x="476.9" y="237" width="22.1" height="2.8" rx="0" stroke="#111" stroke-width="1.15" fill="none"/>
<line x1="487.7" y1="228.5" x2="487.7" y2="276.3" stroke="#111" stroke-width="1.15" />
<path d="M523.3,239.9 H476.2 L475.4,240.8 V262 L448,303.9" stroke="#111" stroke-width="2.2" fill="none" stroke-linejoin="round" stroke-linecap="round" />
<line x1="476.2" y1="255.3" x2="523.3" y2="255.3" stroke="#111" stroke-width="1.7600000000000002" />
<path d="M477.8,263.6 L452.4,303.9" stroke="#111" stroke-width="1.45" fill="none" stroke-linejoin="round" stroke-linecap="round" />
<path d="M477,260.9 L524.7,268.6 M471.6,277 L497,266.3" stroke="#111" stroke-width="1.15" fill="none" stroke-linejoin="round" stroke-linecap="round" />
<path d="M494.1,279.3 L487,292 L486.4,305.6 M494.1,279.3 L501.4,292 L502.2,305.6" stroke="#111" stroke-width="1.45" fill="none" stroke-linejoin="round" stroke-linecap="round" />
<path d="M485.3,305.6 H503.9 V313.2 L498.8,319.6 H490.3 L485.3,313.2 Z" stroke="#111" stroke-width="1.45" fill="none" stroke-linejoin="round" stroke-linecap="round" />
<line x1="494.1" y1="274.2" x2="494.1" y2="366.6" stroke="#111" stroke-width="1.15" />
<path d="M454.7,304.7 H435.3 V318.3 M454.7,304.7 V312.4" stroke="#111" stroke-width="2.2" fill="none" stroke-linejoin="round" stroke-linecap="round" />
<path d="M435.3,320 L454.7,312.4" stroke="#111" stroke-width="1.15" fill="none" stroke-linejoin="round" stroke-linecap="round" />
<line x1="454.7" y1="313.2" x2="523.4" y2="313.2" stroke="#111" stroke-width="1.45" />
<path d="M523.4,320.8 H434 Q431.9,320.8 431.9,323 V335.5 Q431.9,337.8 434,337.8 H523.4" stroke="#111" stroke-width="1.87" fill="none" stroke-linejoin="round" stroke-linecap="round" />
<line x1="431.9" y1="329.3" x2="523.4" y2="329.3" stroke="#111" stroke-width="1.7600000000000002" />
<line x1="444.6" y1="302.2" x2="444.6" y2="332.7" stroke="#111" stroke-width="1.15" />
<path d="M433.4,337.8 V353 Q433.6,358.5 438.5,359.5 Q445,360.8 445.2,366 V428.2" stroke="#111" stroke-width="2.2" fill="none" stroke-linejoin="round" stroke-linecap="round" />
<line x1="445.9" y1="344.8" x2="483.8" y2="344.8" stroke="#111" stroke-width="1.15" />
<line x1="436.6" y1="357.7" x2="484.7" y2="357.7" stroke="#111" stroke-width="1.45" />
<path d="M483.6,339.2 V361.6 M485,342 V357.7 H516 Q518.3,357.9 518.3,360 M484.7,362.3 H518.3" stroke="#111" stroke-width="1.15" fill="none" stroke-linejoin="round" stroke-linecap="round" />
<path d="M436,341 Q444,343 445.5,348.5" stroke="#111" stroke-width="1.15" fill="none" stroke-linejoin="round" stroke-linecap="round" />
<line x1="519.8" y1="360" x2="519.8" y2="393.8" stroke="#111" stroke-width="1.15" />
<line x1="532.4" y1="280" x2="532.4" y2="427" stroke="#111" stroke-width="1.15" />
<line x1="534.2" y1="280" x2="534.2" y2="290" stroke="#111" stroke-width="1.15" />
<line x1="523.5" y1="279.8" x2="534.7" y2="279.8" stroke="#111" stroke-width="1.15" />
<line x1="523.5" y1="287.4" x2="532.4" y2="287.4" stroke="#111" stroke-width="1.15" />
<path d="M523.5,426.1 H531.9 L534,428.8 M523.5,431.5 H535.8" stroke="#111" stroke-width="1.15" fill="none" stroke-linejoin="round" stroke-linecap="round" />
<line x1="523.5" y1="257.6" x2="534.5" y2="257.6" stroke="#111" stroke-width="1.45" />
<line x1="523.5" y1="261.1" x2="534.5" y2="261.1" stroke="#111" stroke-width="1.45" />
<line x1="523.5" y1="264.6" x2="534.5" y2="264.6" stroke="#111" stroke-width="1.45" />
<line x1="523.5" y1="268" x2="534.5" y2="268" stroke="#111" stroke-width="1.45" />
<line x1="523.5" y1="271.5" x2="534.5" y2="271.5" stroke="#111" stroke-width="1.45" />
<line x1="523.5" y1="275" x2="534.5" y2="275" stroke="#111" stroke-width="1.45" />
<path d="M523.5,393.2 L483.3,401.2 L449.3,424.0 L426.5,458.0 L418.5,498.2 L426.5,538.4 L449.3,572.4 L483.3,595.2 L523.5,603.2 L563.7,595.2 L597.7,572.4 L620.5,538.4 L628.5,498.2 L620.5,458.0" stroke="#111" stroke-width="2.2" fill="none" stroke-linejoin="round" stroke-linecap="round" />
<path d="M620.5,457.9 L603,430" stroke="#111" stroke-width="2.2" fill="none" stroke-linejoin="round" stroke-linecap="round" />
<path d="M523.5,410.2 L489.8,416.9 L461.3,436.0 L458.5,440.0" stroke="#111" stroke-width="1.15" fill="none" stroke-linejoin="round" stroke-linecap="round" />
<path d="M435.5,498.2 L442.2,531.9 L461.3,560.4 L489.8,579.5 L523.5,586.2 L557.2,579.5 L585.7,560.4" stroke="#111" stroke-width="1.15" fill="none" stroke-linejoin="round" stroke-linecap="round" />
<path d="M523.5,420.9 L484.9,431.3 L456.6,459.6 L446.2,498.2 L456.6,536.9 L484.8,565.1 L523.5,575.5" stroke="#111" stroke-width="1.15" fill="none" stroke-linejoin="round" stroke-linecap="round" />
<path d="M523.5,443.2 L496.0,450.6 L475.9,470.7 L468.5,498.2 L475.9,525.7 L496.0,545.8 L523.5,553.2" stroke="#111" stroke-width="1.15" fill="none" stroke-linejoin="round" stroke-linecap="round" />
<path d="M612.4,461.4 L609.1,457.5 L604.2,456.3 L599.5,458.3 L596.8,462.6 L597.2,467.7 L600.5,471.5 L605.4,472.7 L610.1,470.8 L612.8,466.4 Z" stroke="#111" stroke-width="1.15" fill="none" stroke-linejoin="round" stroke-linecap="round" />
<line x1="593.7" y1="469.1" x2="615.9" y2="459.9" stroke="#111" stroke-width="1.15" />
<line x1="600.2" y1="453.4" x2="609.4" y2="475.6" stroke="#111" stroke-width="1.15" />
<path d="M486.7,409.3 L482.8,412.6 L481.6,417.5 L483.6,422.2 L487.9,424.9 L493.0,424.5 L496.8,421.2 L498.0,416.3 L496.1,411.6 L491.7,408.9 Z" stroke="#111" stroke-width="1.15" fill="none" stroke-linejoin="round" stroke-linecap="round" />
<line x1="494.4" y1="428.0" x2="485.2" y2="405.8" stroke="#111" stroke-width="1.15" />
<line x1="478.7" y1="421.5" x2="500.9" y2="412.3" stroke="#111" stroke-width="1.15" />
<path d="M434.6,461.4 L434.2,466.4 L436.9,470.8 L441.6,472.7 L446.5,471.5 L449.8,467.7 L450.2,462.6 L447.5,458.3 L442.8,456.3 L437.9,457.5 Z" stroke="#111" stroke-width="1.15" fill="none" stroke-linejoin="round" stroke-linecap="round" />
<line x1="453.3" y1="469.1" x2="431.1" y2="459.9" stroke="#111" stroke-width="1.15" />
<line x1="437.6" y1="475.6" x2="446.8" y2="453.4" stroke="#111" stroke-width="1.15" />
<path d="M434.6,535.0 L437.9,538.9 L442.8,540.1 L447.5,538.1 L450.2,533.8 L449.8,528.7 L446.5,524.9 L441.6,523.7 L436.9,525.6 L434.2,530.0 Z" stroke="#111" stroke-width="1.15" fill="none" stroke-linejoin="round" stroke-linecap="round" />
<line x1="453.3" y1="527.3" x2="431.1" y2="536.5" stroke="#111" stroke-width="1.15" />
<line x1="446.8" y1="543.0" x2="437.6" y2="520.8" stroke="#111" stroke-width="1.15" />
<path d="M486.7,587.1 L491.7,587.5 L496.1,584.8 L498.0,580.1 L496.8,575.2 L493.0,571.9 L487.9,571.5 L483.6,574.2 L481.6,578.9 L482.8,583.8 Z" stroke="#111" stroke-width="1.15" fill="none" stroke-linejoin="round" stroke-linecap="round" />
<line x1="494.4" y1="568.4" x2="485.2" y2="590.6" stroke="#111" stroke-width="1.15" />
<line x1="500.9" y1="584.1" x2="478.7" y2="574.9" stroke="#111" stroke-width="1.15" />
<path d="M560.3,587.1 L564.2,583.8 L565.4,578.9 L563.4,574.2 L559.1,571.5 L554.0,571.9 L550.2,575.2 L549.0,580.1 L550.9,584.8 L555.3,587.5 Z" stroke="#111" stroke-width="1.15" fill="none" stroke-linejoin="round" stroke-linecap="round" />
<line x1="552.6" y1="568.4" x2="561.8" y2="590.6" stroke="#111" stroke-width="1.15" />
<line x1="568.3" y1="574.9" x2="546.1" y2="584.1" stroke="#111" stroke-width="1.15" />
<path d="M612.4,535.0 L612.8,530.0 L610.1,525.6 L605.4,523.7 L600.5,524.9 L597.2,528.7 L596.8,533.8 L599.5,538.1 L604.2,540.1 L609.1,538.9 Z" stroke="#111" stroke-width="1.15" fill="none" stroke-linejoin="round" stroke-linecap="round" />
<line x1="593.7" y1="527.3" x2="615.9" y2="536.5" stroke="#111" stroke-width="1.15" />
<line x1="609.4" y1="520.8" x2="600.2" y2="543.0" stroke="#111" stroke-width="1.15" />
<path d="M465.5,585.6 L468.2,600 Q468.8,603 472,603 H575 Q579.5,603 580.2,598.5 L583,585.6" stroke="#111" stroke-width="2.2" fill="none" stroke-linejoin="round" stroke-linecap="round" />
<path d="M523.5,393.8 L484.7,401.2" stroke="#111" stroke-width="1.15" fill="none" stroke-linejoin="round" stroke-linecap="round" />
<line x1="523.5" y1="455" x2="523.5" y2="478" stroke="#111" stroke-width="1.45" />
<line x1="523.5" y1="520" x2="523.5" y2="545" stroke="#111" stroke-width="1.45" />
<clipPath id="c10"><path d="M535.7,208.0 L558.2,208.0 L558.2,215.4 L546.5,216.0 L544.6,218.0 L546.6,238.9 L554.3,240.4 L565.8,240.4 L571.2,238.9 L572.5,255.5 L535.7,255.5 Z"/></clipPath><g clip-path="url(#c10)"><rect x="150" y="200" width="480" height="410" fill="#e6efff"/><use href="#hl"/></g>
<path d="M535.7,208.0 L558.2,208.0 L558.2,215.4 L546.5,216.0 L544.6,218.0 L546.6,238.9 L554.3,240.4 L565.8,240.4 L571.2,238.9 L572.5,255.5 L535.7,255.5 Z" stroke="#1c2c4a" stroke-width="1.1" fill="none" stroke-linejoin="round" stroke-linecap="round" />
<clipPath id="c11"><path d="M535.7,256.5 L543.0,256.5 L543.0,272.0 L541.0,276.0 L541.5,279.2 L537.5,279.0 L535.7,275.0 Z"/></clipPath><g clip-path="url(#c11)"><rect x="150" y="200" width="480" height="410" fill="#e6efff"/><use href="#hl"/></g>
<path d="M535.7,256.5 L543.0,256.5 L543.0,272.0 L541.0,276.0 L541.5,279.2 L537.5,279.0 L535.7,275.0 Z" stroke="#1c2c4a" stroke-width="1.0" fill="none" stroke-linejoin="round" stroke-linecap="round" />
<clipPath id="c12"><path d="M544.2,256.2 L572.5,256.2 L572.8,260.4 L602.6,308.0 L603.3,312.9 L614.4,319.8 L615.8,321.2 L615.8,328.1 L592.9,328.1 L586.6,305.1 L580.0,294.5 L575.8,291.3 L560.0,289.7 L555.0,289.0 L547.0,284.5 L542.5,281.0 L542.0,277.0 L544.2,272.5 Z"/></clipPath><g clip-path="url(#c12)"><rect x="150" y="200" width="480" height="410" fill="#e6efff"/><use href="#hl2"/></g>
<path d="M544.2,256.2 L572.5,256.2 L572.8,260.4 L602.6,308.0 L603.3,312.9 L614.4,319.8 L615.8,321.2 L615.8,328.1 L592.9,328.1 L586.6,305.1 L580.0,294.5 L575.8,291.3 L560.0,289.7 L555.0,289.0 L547.0,284.5 L542.5,281.0 L542.0,277.0 L544.2,272.5 Z" stroke="#1c2c4a" stroke-width="1.1" fill="none" stroke-linejoin="round" stroke-linecap="round" />
<path d="M554.3,237.3 V277.4 L560,282.8 L565.8,277.4 V237.3 Z" stroke="#1c2c4a" stroke-width="1.1" fill="#fff" stroke-linejoin="round" stroke-linecap="round" />
<rect x="549.7" y="231.2" width="20" height="6.1" rx="0" stroke="#111" stroke-width="1.45" fill="#fff"/>
<line x1="554.5" y1="231.2" x2="554.5" y2="237.3" stroke="#111" stroke-width="1.15" />
<line x1="559.6" y1="231.2" x2="559.6" y2="237.3" stroke="#111" stroke-width="1.15" />
<line x1="564.8" y1="231.2" x2="564.8" y2="237.3" stroke="#111" stroke-width="1.15" />
<line x1="559.6" y1="227" x2="559.6" y2="282" stroke="#111" stroke-width="1.15" />
<line x1="554.3" y1="255.5" x2="565.8" y2="255.5" stroke="#1c2c4a" stroke-width="0.9" />
<line x1="554.3" y1="268" x2="565.8" y2="268" stroke="#1c2c4a" stroke-width="0.9" />
<rect x="545.2" y="217.9" width="10.6" height="4.4" rx="0" stroke="#111" stroke-width="1.45" fill="#fff"/>
<line x1="547.9" y1="217.9" x2="547.9" y2="222.3" stroke="#111" stroke-width="1.15" />
<line x1="550.5" y1="217.9" x2="550.5" y2="222.3" stroke="#111" stroke-width="1.15" />
<line x1="553.1" y1="217.9" x2="553.1" y2="222.3" stroke="#111" stroke-width="1.15" />
<rect x="536" y="234" width="3.4" height="3" fill="#1a2a55"/>
<rect x="536" y="239.5" width="3" height="4" fill="#1a2a55"/>
<rect x="536" y="246" width="3.4" height="3" fill="#1a2a55"/>
<rect x="536" y="251" width="3.4" height="3.5" fill="#1a2a55"/>
<rect x="536.5" y="268" width="4" height="3" fill="#1a2a55"/>
<rect x="537" y="274" width="4" height="4" fill="#1a2a55"/>
<line x1="536" y1="255.5" x2="554" y2="255.5" stroke="#1c2c4a" stroke-width="1.2" />
<rect x="546" y="253.8" width="5" height="2.6" fill="#111"/>
<path d="M571.2,238.9 L572.8,260.4 L602.6,308 L603.3,312.9 Q609,317.5 614.4,319.8 L615.8,321.2 V335.8 L614.4,338.5 L604.7,344.8" stroke="#111" stroke-width="2.2" fill="none" stroke-linejoin="round" stroke-linecap="round" />
<path d="M601.9,312 V304.6 H613 V318.5" stroke="#111" stroke-width="2.2" fill="none" stroke-linejoin="round" stroke-linecap="round" />
<line x1="579.5" y1="271.1" x2="586.0" y2="277.6" stroke="#4a68a2" stroke-width="0.9" />
<line x1="582.1" y1="275.3" x2="588.6" y2="281.8" stroke="#4a68a2" stroke-width="0.9" />
<line x1="584.7" y1="279.4" x2="591.2" y2="285.9" stroke="#4a68a2" stroke-width="0.9" />
<line x1="587.3" y1="283.6" x2="593.8" y2="290.1" stroke="#4a68a2" stroke-width="0.9" />
<line x1="589.9" y1="287.7" x2="596.4" y2="294.2" stroke="#4a68a2" stroke-width="0.9" />
<line x1="592.5" y1="291.9" x2="599.0" y2="298.4" stroke="#4a68a2" stroke-width="0.9" />
<rect x="599.8" y="325.6" width="11" height="3.2" rx="1.2" fill="#0a0a0a"/>
<path d="M614.4,340 V355 Q614.4,358.5 610,359.5 L604,361.8" stroke="#111" stroke-width="2.2" fill="none" stroke-linejoin="round" stroke-linecap="round" />
<clipPath id="c13"><path d="M593.6,328.3 L615.8,328.3 L615.8,335.8 L614.4,338.5 L604.7,344.8 L603.3,348.3 L603.0,508.6 L570.8,540.8 L526.8,564.6 L526.8,561.0 L523.5,560.5 L523.5,553.6 L552.2,545.9 L593.7,504.4 Z"/></clipPath><g clip-path="url(#c13)"><rect x="150" y="200" width="480" height="410" fill="#e6efff"/><use href="#hl"/></g>
<path d="M593.6,328.3 L615.8,328.3 L615.8,335.8 L614.4,338.5 L604.7,344.8 L603.3,348.3 L603.0,508.6 L570.8,540.8 L526.8,564.6 L526.8,561.0 L523.5,560.5 L523.5,553.6 L552.2,545.9 L593.7,504.4 Z" stroke="#1c2c4a" stroke-width="1.1" fill="none" stroke-linejoin="round" stroke-linecap="round" />
<path d="M603.3,348.3 L603,508.6 L570.8,540.8 L526.8,564.6" stroke="#101828" stroke-width="1.7" fill="none" stroke-linejoin="round" stroke-linecap="round" />
<line x1="533.0" y1="563.2" x2="530.0" y2="566.2" stroke="#4f6fa6" stroke-width="0.8" />
<line x1="538.2" y1="560.5" x2="535.2" y2="563.5" stroke="#4f6fa6" stroke-width="0.8" />
<line x1="543.4" y1="557.8" x2="540.4" y2="560.8" stroke="#4f6fa6" stroke-width="0.8" />
<line x1="548.6" y1="555.1" x2="545.6" y2="558.1" stroke="#4f6fa6" stroke-width="0.8" />
<line x1="553.8" y1="552.4" x2="550.8" y2="555.4" stroke="#4f6fa6" stroke-width="0.8" />
<line x1="559.0" y1="549.7" x2="556.0" y2="552.7" stroke="#4f6fa6" stroke-width="0.8" />
<line x1="564.2" y1="547.0" x2="561.2" y2="550.0" stroke="#4f6fa6" stroke-width="0.8" />
<line x1="569.4" y1="544.3" x2="566.4" y2="547.3" stroke="#4f6fa6" stroke-width="0.8" />
<circle cx="567" cy="543" r="1.6" fill="#111"/>
<clipPath id="c14"><path d="M536.2,289.6 L556.5,289.6 L558.6,300.0 L561.6,314.0 L562.6,320.0 L565.0,323.0 L583.0,323.0 L583.0,402.5 L583.0,406.4 L538.7,438.6 L536.4,437.0 Z"/></clipPath><g clip-path="url(#c14)"><rect x="150" y="200" width="480" height="410" fill="#e6efff"/><use href="#hl"/></g>
<path d="M536.2,289.6 L556.5,289.6 L558.6,300.0 L561.6,314.0 L562.6,320.0 L565.0,323.0 L583.0,323.0 L583.0,402.5 L583.0,406.4 L538.7,438.6 L536.4,437.0 Z" stroke="#2a4a80" stroke-width="1.2" fill="none" stroke-linejoin="round" stroke-linecap="round" />
<path d="M562.5,317 L564.5,320.3 H582" stroke="#2a4a80" stroke-width="0.9" fill="none" stroke-linejoin="round" stroke-linecap="round" />
<path d="M583,401.5 L579,401.5 L538.7,433.5" stroke="#2a4a80" stroke-width="0.9" fill="none" stroke-linejoin="round" stroke-linecap="round" />
<polygon points="583,401.5 579,401.5 538.7,433.5 538.7,438.6 583,406.4" fill="#6f92cf" opacity="0.55"/>
<path d="M538.6,292 V434" stroke="#2a4a80" stroke-width="0.9" fill="none" stroke-linejoin="round" stroke-linecap="round" stroke-dasharray="2 1.5"/>
<path d="M580.5,325 V401" stroke="#2a4a80" stroke-width="0.9" fill="none" stroke-linejoin="round" stroke-linecap="round" stroke-dasharray="2 1.5"/>
<path d="M541.2,290 H555.5 M541.2,290 V301.7 H549.7 V311.8 H538.4 V336" stroke="#1f3560" stroke-width="1.4" fill="none" stroke-linejoin="round" stroke-linecap="round" stroke-dasharray="2.5 0.8"/>
<path d="M553.1,291 V336" stroke="#1f3560" stroke-width="1.2" fill="none" stroke-linejoin="round" stroke-linecap="round" stroke-dasharray="2.5 1"/>
<path d="M561.9,290.2 Q566.6,293 566.6,299 V311.8 Q566.6,315 564,315.2 H561.8" stroke="#111" stroke-width="1.15" fill="none" stroke-linejoin="round" stroke-linecap="round" />
<path d="M583.9,302.5 L592.2,328.1 M586.6,304 V322" stroke="#111" stroke-width="1.15" fill="none" stroke-linejoin="round" stroke-linecap="round" />
<path d="M584,323.5 H589 Q592,326 593,330 V333 L585,336.5" stroke="#111" stroke-width="1.15" fill="none" stroke-linejoin="round" stroke-linecap="round" />
<line x1="584.5" y1="323" x2="584.5" y2="515" stroke="#111" stroke-width="1.15" />
<line x1="593" y1="328" x2="593" y2="505" stroke="#1c2c4a" stroke-width="0.9" />
<path d="M523.5,410.2 L557.2,416.9 L585.7,436.0 L604.8,464.5 L611.5,498.2" stroke="#111" stroke-width="1.15" fill="none" stroke-linejoin="round" stroke-linecap="round" />
<path d="M523.5,443.2 L551.0,450.6 L571.1,470.7 L578.5,498.2 L571.1,525.7 L551.0,545.8 L523.5,553.2" stroke="#111" stroke-width="1.15" fill="none" stroke-linejoin="round" stroke-linecap="round" />
<path d="M558.5,418 L561.6,405.8" stroke="#111" stroke-width="1.15" fill="none" stroke-linejoin="round" stroke-linecap="round" />
<path d="M523.5,427.4 H533 L534.8,425.5" stroke="#111" stroke-width="1.15" fill="none" stroke-linejoin="round" stroke-linecap="round" />
<path d="M523.5,439 L536,439.5" stroke="#111" stroke-width="1.15" fill="none" stroke-linejoin="round" stroke-linecap="round" />
</svg>
</body></html>
